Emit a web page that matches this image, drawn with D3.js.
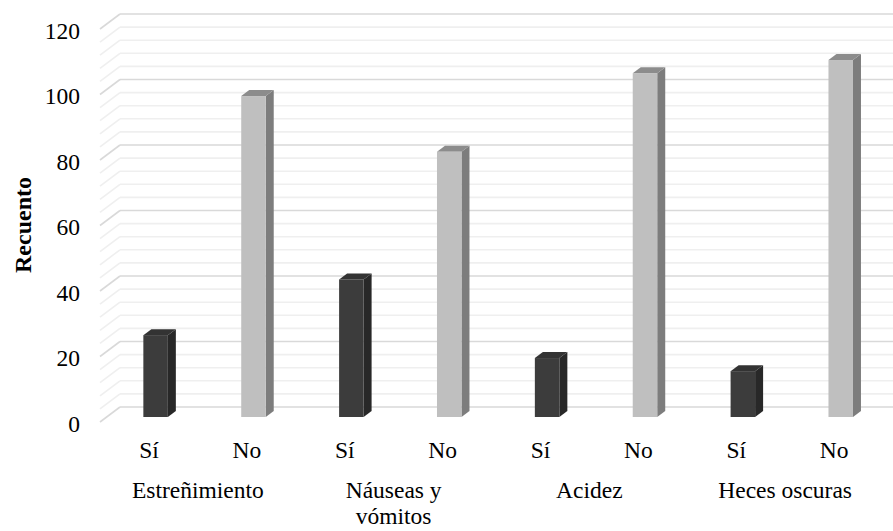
<!DOCTYPE html>
<html>
<head>
<meta charset="utf-8">
<script src="https://cdn.jsdelivr.net/npm/d3@7"></script>
<style>
  html, body { margin: 0; padding: 0; background: #ffffff; }
  svg { display: block; }
  text { font-family: "Liberation Serif", "Times New Roman", serif; fill: #000; }
</style>
</head>
<body>
<svg id="chart" width="893" height="531"></svg>
<script>
// Síntomas y número de pacientes que responden Sí / No
const categories = ["Estreñimiento", "Náuseas y vómitos", "Acidez", "Heces oscuras"];
const answers = ["Sí", "No"];
const valuesSi = [25, 42, 18, 14];
const valuesNo = [98, 81, 105, 109];
const yTicks = [0, 20, 40, 60, 80, 100, 120];
const yLabel = "Recuento";

// flat list of bars: one per (category, answer)
const bars = [];
categories.forEach((c, i) => {
  bars.push({ key: i * 2, cat: c, answer: "Sí", value: valuesSi[i] });
  bars.push({ key: i * 2 + 1, cat: c, answer: "No", value: valuesNo[i] });
});

const W = 893, H = 531;
const FS = "23.5px";
const svg = d3.select("#chart");

// oblique projection: the back wall sits DX right and DY up from the front floor edge
const DX = 20, DY = 15;
const x = d3.scaleBand().domain(bars.map(d => d.key)).range([100, 883]);
const yBack = d3.scaleLinear().domain([0, 120]).range([407, 14]);
const yFront = d3.scaleLinear().domain([0, 120]).range([407 + DY, 14 + DY]);

// gridlines: back-wall segment plus the diagonal on the left side wall
const gridVals = d3.range(0, 121, 4);
const grid = svg.append("g");
gridVals.forEach(v => {
  const major = v % 20 === 0;
  const col = major ? "#d9d9d9" : "#efefef";
  const yb = yBack(v);
  grid.append("line")
    .attr("x1", x.range()[0] + DX).attr("x2", W + 10)
    .attr("y1", yb).attr("y2", yb)
    .attr("stroke", col).attr("stroke-width", 1.6);
  grid.append("line")
    .attr("x1", x.range()[0]).attr("y1", yFront(v))
    .attr("x2", x.range()[0] + DX).attr("y2", yb)
    .attr("stroke", col).attr("stroke-width", 1.6);
});

// 3D columns: front face at one third of the floor depth
const t0 = 1 / 3;
const barW = 24.5, depthX = 8, depthY = 6;
const colors = {
  "Sí": { front: "#3c3c3c", side: "#282828", top: "#333333" },
  "No": { front: "#bfbfbf", side: "#7d7d7d", top: "#8c8c8c" }
};
const g = svg.append("g");
bars.forEach(d => {
  const cx = x(d.key) + x.bandwidth() / 2 + DX * t0;
  const x0 = cx - barW / 2, x1 = cx + barW / 2;
  const yb = yBack(0) + DY * (1 - t0);
  const yt = yBack(d.value) + DY * (1 - t0);
  const c = colors[d.answer];
  const pts = a => a.map(p => p.join(",")).join(" ");
  g.append("polygon")
    .attr("points", pts([[x1, yt], [x1 + depthX, yt - depthY], [x1 + depthX, yb - depthY], [x1, yb]]))
    .attr("fill", c.side);
  g.append("polygon")
    .attr("points", pts([[x0, yt], [x1, yt], [x1 + depthX, yt - depthY], [x0 + depthX, yt - depthY]]))
    .attr("fill", c.top);
  g.append("rect")
    .attr("x", x0).attr("y", yt)
    .attr("width", barW).attr("height", yb - yt)
    .attr("fill", c.front);
});

// value axis on the front edge
const yAxis = svg.append("g")
  .attr("transform", `translate(${x.range()[0]},0)`)
  .call(d3.axisLeft(yFront).tickValues(yTicks).tickSize(0).tickPadding(20));
yAxis.select(".domain").remove();
yAxis.selectAll("text")
  .attr("dy", "0.4em")
  .style("font-family", "Liberation Serif")
  .style("font-size", FS)
  .attr("fill", "#000");

// answer labels (Sí / No)
const xAxis = svg.append("g")
  .attr("transform", `translate(0,${yFront(0)})`)
  .call(d3.axisBottom(x).tickSize(0).tickPadding(0)
    .tickFormat(k => bars[k].answer));
xAxis.select(".domain").remove();
xAxis.selectAll("text")
  .attr("y", 36).attr("dy", 0)
  .style("font-family", "Liberation Serif")
  .style("font-size", FS)
  .attr("fill", "#000");

// category labels, centred under each Sí/No pair and wrapped to fit
const catG = svg.append("g");
categories.forEach((c, i) => {
  const cx = (x(i * 2) + x(i * 2 + 1) + x.bandwidth()) / 2;
  const lines = c === "Náuseas y vómitos" ? ["Náuseas y", "vómitos"] : [c];
  const t = catG.append("text")
    .attr("text-anchor", "middle")
    .style("font-size", FS);
  lines.forEach((ln, j) => {
    t.append("tspan").attr("x", cx).attr("y", 498 + j * 26).text(ln);
  });
});

// axis title
svg.append("text")
  .attr("transform", "translate(31,225) rotate(-90)")
  .attr("text-anchor", "middle")
  .style("font-size", "24px")
  .style("font-weight", "bold")
  .text(yLabel);
</script>
</body>
</html>
